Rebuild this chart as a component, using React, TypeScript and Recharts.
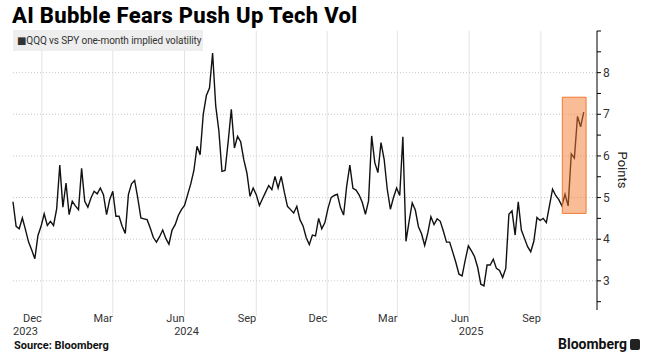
import { LineChart, Line, XAxis, YAxis, CartesianGrid, ReferenceArea } from 'recharts';

// days counted from 1 Dec 2023, one reading every 4 days
const START_DAY = -37;
const STEP_DAYS = 4;

const volValues = [
  4.9, 4.31, 4.25, 4.51, 4.23, 3.93, 3.74, 3.53, 4.09, 4.31,
  4.61, 4.33, 4.43, 4.33, 4.73, 5.78, 4.77, 5.35, 4.59, 4.91,
  4.8, 4.71, 5.7, 4.91, 4.77, 4.99, 5.15, 5.09, 5.23, 5.07,
  4.59, 4.95, 5.15, 4.55, 4.55, 4.31, 4.14, 5.07, 5.33, 5.41,
  4.99, 4.51, 4.49, 4.47, 4.27, 4.04, 3.93, 4.06, 4.22, 4.02,
  3.88, 4.22, 4.35, 4.57, 4.71, 4.81, 5.07, 5.33, 5.65, 6.23,
  6.03, 7.0, 7.45, 7.63, 8.47, 7.2, 6.61, 5.63, 5.65, 6.35,
  7.12, 6.19, 6.47, 6.34, 5.91, 5.59, 5.03, 5.23, 5.07, 4.81,
  4.97, 5.13, 5.29, 5.19, 5.51, 5.23, 5.51, 5.13, 4.79, 4.71,
  4.63, 4.79, 4.47, 4.32, 4.04, 3.87, 4.1, 4.08, 4.5, 4.25,
  4.4, 4.74, 5.0, 5.05, 5.08, 4.76, 4.58, 5.28, 5.78, 5.22,
  5.18, 5.06, 4.88, 4.6, 4.92, 6.48, 5.84, 5.6, 6.32, 5.92,
  5.2, 4.72, 5.0, 5.23, 5.05, 6.46, 3.95, 4.43, 4.87, 4.7,
  4.3, 4.13, 3.85, 4.15, 4.54, 4.35, 4.49, 4.43, 4.19, 3.93,
  3.93, 3.69, 3.44, 3.16, 3.12, 3.5, 3.84, 3.72, 3.58, 3.32,
  2.92, 2.88, 3.38, 3.38, 3.52, 3.3, 3.25, 3.08, 3.3, 4.6,
  4.68, 4.1, 4.9, 4.22, 4.02, 3.82, 3.7, 3.95, 4.52, 4.45,
  4.5, 4.4, 4.8, 5.2, 5.05, 4.95, 4.8, 5.08, 4.8, 6.05,
  5.95, 6.95, 6.7, 7.05,
];

const monthTickDays = [0, 91, 183, 275, 366, 456, 548, 640];
const monthLabels = ['Dec', 'Mar', 'Jun', 'Sep', 'Dec', 'Mar', 'Jun', 'Sep'];
const yearLabels = ['2023', '', '2024', '', '', '', '2025', ''];

const yTicks = [2.5, 3, 3.5, 4, 4.5, 5, 5.5, 6, 6.5, 7, 7.5, 8, 8.5, 9];
const yLabelled = [3, 4, 5, 6, 7, 8];

// highlighted recent spike
const boxDays = [667.5, 698];
const boxValues = [4.62, 7.41];

const data = volValues.map((v, i) => ({ day: START_DAY + i * STEP_DAYS, vol: v }));

const font = 'Roboto, "DejaVu Sans", sans-serif';

const MonthTick = (props: any) => {
  const { x, y, payload } = props;
  const idx = monthTickDays.indexOf(payload.value);
  const year = yearLabels[idx];
  return (
    <g>
      <text x={x} y={y} dy={4} textAnchor="end" fontSize={11} fill="#333" fontFamily={font}>
        {monthLabels[idx]}
      </text>
      {year && (
        <text
          x={idx === 0 ? x - 4 : x + 2}
          y={y}
          dy={17}
          textAnchor={idx === 0 ? 'end' : 'middle'}
          fontSize={11}
          fill="#333"
          fontFamily={font}
        >
          {year}
        </text>
      )}
    </g>
  );
};

const ValueTick = (props: any) => {
  const { x, y, payload } = props;
  if (!yLabelled.includes(payload.value)) return <g />;
  return (
    <text x={x} y={y} dy={4} textAnchor="start" fontSize={12} fill="#333" fontFamily={font}>
      {payload.value}
    </text>
  );
};

export default function App() {
  return (
    <div style={{ position: 'absolute', left: 0, top: 0, width: 650, height: 364, background: '#fff', fontFamily: font }}>
      <div style={{ position: 'absolute', left: 12, top: 3, fontSize: 22, fontWeight: 800, letterSpacing: 0.3, color: '#000', whiteSpace: 'nowrap' }}>
        AI Bubble Fears Push Up Tech Vol
      </div>
      <LineChart width={650} height={364} data={data} margin={{ top: 31, right: 23, bottom: 24, left: 13 }}>
        <CartesianGrid horizontal={false} stroke="#e4e4e4" verticalValues={monthTickDays} />
        <CartesianGrid vertical={false} stroke="#c8c8c8" strokeDasharray="1 2" horizontalValues={yLabelled} />
        <XAxis
          dataKey="day"
          type="number"
          domain={[-37, 712]}
          ticks={monthTickDays}
          axisLine={false}
          tickLine={{ stroke: '#e4e4e4' }}
          tickSize={6}
          height={30}
          tick={<MonthTick />}
          interval={0}
        />
        <YAxis
          orientation="right"
          domain={[2.3, 9]}
          ticks={yTicks}
          interval={0}
          axisLine={{ stroke: '#000' }}
          tickLine={{ stroke: '#000' }}
          tickSize={4}
          width={30}
          tick={<ValueTick />}
          allowDataOverflow
        />
        <Line dataKey="vol" type="linear" stroke="#111" strokeWidth={1.4} dot={false} isAnimationActive={false} />
        <ReferenceArea
          x1={boxDays[0]}
          x2={boxDays[1]}
          y1={boxValues[0]}
          y2={boxValues[1]}
          fill="#f27a30"
          fillOpacity={0.5}
          stroke="#f07a35"
          strokeOpacity={1}
          zIndex={450}
        />
      </LineChart>
      <div style={{ position: 'absolute', left: 13, top: 30, width: 190, height: 21, background: '#eeeeee', fontSize: 10, letterSpacing: -0.1, color: '#333', lineHeight: '21px', paddingLeft: 4, boxSizing: 'border-box', whiteSpace: 'nowrap' }}>
        ■QQQ vs SPY one-month implied volatility
      </div>
      <div style={{ position: 'absolute', left: 622, top: 170, transform: 'translate(-50%, -50%) rotate(90deg)', transformOrigin: 'center', fontSize: 13, color: '#222', whiteSpace: 'nowrap' }}>
        Points
      </div>
      <div style={{ position: 'absolute', left: 14, top: 339, fontSize: 11, fontWeight: 700, color: '#111' }}>
        Source: Bloomberg
      </div>
      <div style={{ position: 'absolute', left: 558, top: 336, fontSize: 14, fontWeight: 700, color: '#111', display: 'flex', alignItems: 'center', gap: 3 }}>
        Bloomberg
        <span style={{ display: 'inline-block', width: 10, height: 11, background: '#222', borderRadius: 2 }} />
      </div>
    </div>
  );
}
